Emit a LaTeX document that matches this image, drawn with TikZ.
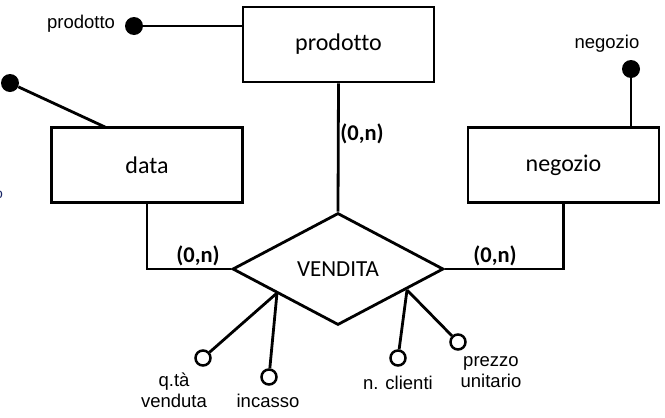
\documentclass[tikz,border=0pt]{standalone}
\usepackage{fontspec}
\setmainfont{Carlito}[Ligatures=CommonOff]
\newfontfamily\attrfont{Liberation Sans}
\usetikzlibrary{shapes.geometric}
\tikzset{
  entity/.style={draw, rectangle, line width=2.8pt, minimum width=191pt, minimum height=75pt, inner sep=0pt, font=\fontsize{24}{28}\selectfont},
  relation/.style={draw, diamond, line width=2.8pt, minimum width=211pt, minimum height=112pt, aspect=1.9, inner sep=0pt, font=\fontsize{23}{27}\selectfont},
  conn/.style={line width=2.8pt},
  keydot/.style={circle, fill=black, minimum size=18pt, inner sep=0pt},
  attrdot/.style={circle, draw, fill=white, line width=2.5pt, minimum size=15pt, inner sep=0pt},
  card/.style={font=\bfseries\fontsize{22.5}{26}\selectfont, inner sep=0pt},
  attr/.style={font=\attrfont\fontsize{18.5}{21}\selectfont, inner sep=0pt, align=center}
}
\begin{document}
\begin{tikzpicture}[x=1pt,y=-1pt]
\useasboundingbox (0,0) rectangle (665,418);
% entities
\node[entity] (prod) at (338.5,44.5) {prodotto};
\node[entity] (data) at (147,165) {data};
\node[entity] (neg) at (563.5,165) {negozio};
% relation
\node[relation] (vend) at (338,269) {VENDITA};
% coordinates on relation edges
\coordinate (vbl) at (277,293);
\coordinate (vbr) at (407,290);
% key dots
\node[keydot] (kprod) at (134,26) {};
\node[keydot] (kdata) at (10,83) {};
\node[keydot] (kneg) at (631,69) {};
\coordinate (dtop) at (105,127);
\node[attr] (lkprod) at (81,24) {prodotto};
\node[attr] (lkneg) at (607,44) {negozio};
\node[font=\attrfont\fontsize{14}{16}\selectfont, text={rgb,1:red,0.1;green,0.15;blue,0.4}, inner sep=0pt] (lkdata) at (-1,195) {o};
\draw[conn] (kprod) -- (prod.west |- kprod);
\draw[conn] (kdata) -- (dtop);
\draw[conn] (kneg) -- (kneg |- neg.north);
% relation connectors
\draw[conn] (prod.south) -- (vend.north);
\draw[conn] (data.south) |- (vend.west);
\draw[conn] (neg.south) |- (vend.east);
\node[card] (c1) at (362,134) {(0,n)};
\node[card] (c2) at (198,256) {(0,n)};
\node[card] (c3) at (495,256) {(0,n)};
% attributes
\node[attrdot] (aq) at (203,358) {};
\node[attrdot] (ai) at (269,377) {};
\node[attrdot] (an) at (398,358) {};
\node[attrdot] (ap) at (458,342) {};
\draw[conn] (vbl) -- (aq);
\draw[conn] (vbl) -- (ai);
\draw[conn] (vbr) -- (an);
\draw[conn] (vbr) -- (ap);
\node[attr] (laq) at (174,390) {q.tà\\venduta};
\node[attr] (lai) at (268,401) {incasso};
\node[attr] (lan) at (398,383) {n. clienti};
\node[attr] (lap) at (491,372) {prezzo\\unitario};
\end{tikzpicture}
\end{document}
